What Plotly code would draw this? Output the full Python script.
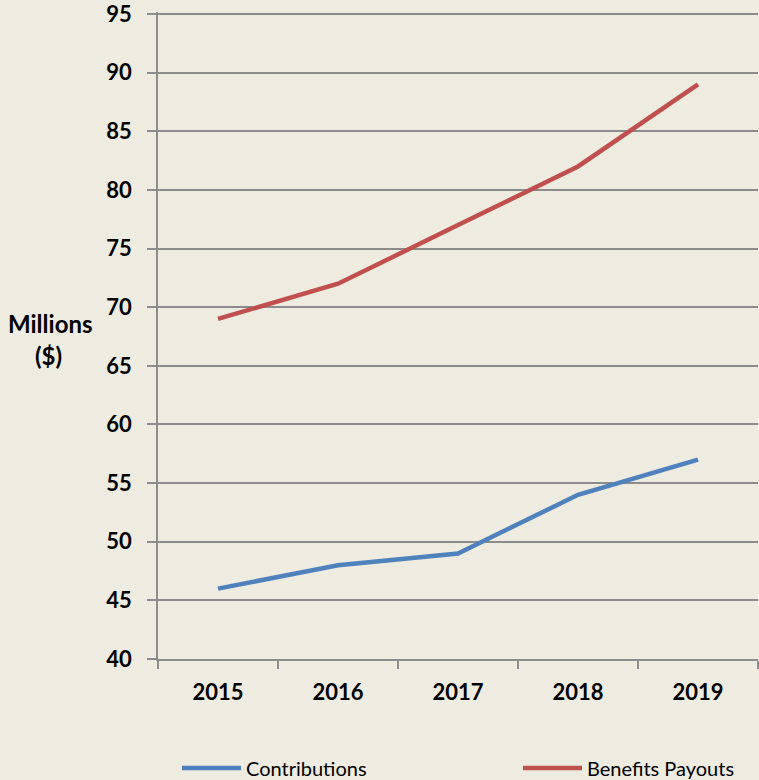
import plotly.graph_objects as go

years = ["2015", "2016", "2017", "2018", "2019"]
contributions = [46, 48, 49, 54, 57]
benefits = [69, 72, 77, 82, 89]
y_ticks = [40, 45, 50, 55, 60, 65, 70, 75, 80, 85, 90, 95]

BG = "#EEEBE0"
GRID = "#8C8C8C"
FONT = "Lato, Open Sans, sans-serif"
W, H = 759, 780
T, B = 12, 121
PLOT_H = H - T - B
Y_TOP = 95 + (PLOT_H - 645) / (645 / 55)

fig = go.Figure()
fig.add_trace(go.Scatter(x=years, y=contributions, mode="lines", name="Contributions",
                         line=dict(color="#4F81BD", width=4.5), legend="legend"))
fig.add_trace(go.Scatter(x=years, y=benefits, mode="lines", name="Benefits Payouts",
                         line=dict(color="#C0504D", width=4.5), legend="legend2"))

leg_common = dict(orientation="h", xanchor="left", yanchor="middle",
                  xref="container", yref="container", y=1 - 768 / H,
                  font=dict(size=20, family=FONT), bgcolor="rgba(0,0,0,0)",
                  itemwidth=59)

fig.update_layout(
    width=W, height=H,
    paper_bgcolor=BG, plot_bgcolor=BG,
    margin=dict(l=158, r=1, t=T, b=B),
    font=dict(family=FONT, color="#000000"),
    showlegend=True,
    legend=dict(x=177 / W, **leg_common),
    legend2=dict(x=518 / W, **leg_common),
)
fig.update_xaxes(
    type="category", tickson="boundaries", ticks="outside", ticklen=8, tickwidth=1.5,
    tickcolor=GRID, showline=True, linecolor=GRID, linewidth=1.5,
    showgrid=False, range=[-0.5, 4.5],
    tickfont=dict(size=22, family=FONT, weight="bold"), ticklabelstandoff=13,
)
fig.update_yaxes(
    range=[40, Y_TOP], tickvals=y_ticks, ticks="outside", ticklen=9, tickwidth=1.5,
    tickcolor=GRID, showline=True, linecolor=GRID, linewidth=1.5,
    showgrid=True, gridcolor=GRID, gridwidth=1.5, zeroline=False,
    tickfont=dict(size=22, family=FONT, weight="bold"), ticklabelstandoff=11,
    ticklabeloverflow="allow",
)
fig.add_annotation(text="Millions", xref="paper", yref="paper", xanchor="center", yanchor="middle",
                   x=(50 - 158) / 600, y=(H - B - 323) / PLOT_H, showarrow=False,
                   font=dict(size=24, family=FONT, weight="bold"))
fig.add_annotation(text="($)", xref="paper", yref="paper", xanchor="center", yanchor="middle",
                   x=(48 - 158) / 600, y=(H - B - 355) / PLOT_H, showarrow=False,
                   font=dict(size=24, family=FONT, weight="bold"))

fig.write_html("out.html", config={"displayModeBar": False},
               post_script="document.body.style.margin='0';")
